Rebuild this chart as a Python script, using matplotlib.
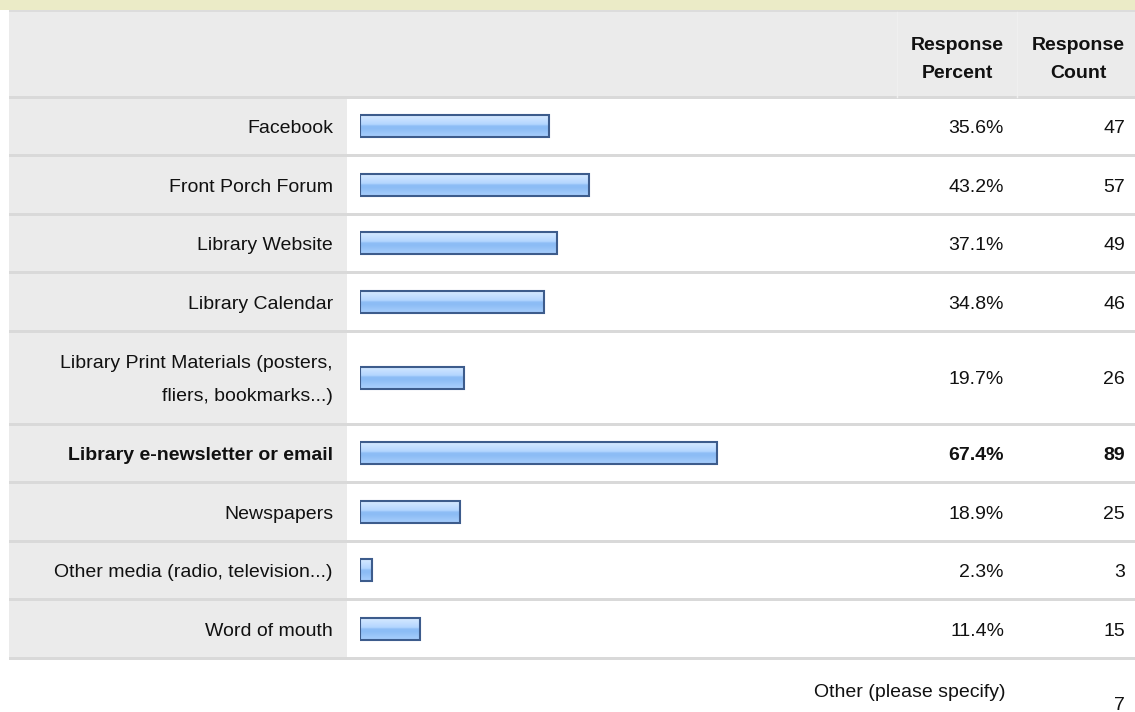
import matplotlib
matplotlib.use("Agg")
import matplotlib.pyplot as plt
import numpy as np
from matplotlib.patches import Rectangle
from matplotlib.colors import LinearSegmentedColormap

plt.rcParams['font.family'] = ['Liberation Sans', 'DejaVu Sans']

# ---- data ----
categories = [
    "Facebook",
    "Front Porch Forum",
    "Library Website",
    "Library Calendar",
    "Library Print Materials (posters,\nfliers, bookmarks...)",
    "Library e-newsletter or email",
    "Newspapers",
    "Other media (radio, television...)",
    "Word of mouth",
]
percents = [35.6, 43.2, 37.1, 34.8, 19.7, 67.4, 18.9, 2.3, 11.4]
counts = [47, 57, 49, 46, 26, 89, 25, 3, 15]
highlight = "Library e-newsletter or email"
header_percent = "Response\nPercent"
header_count = "Response\nCount"
other_label = "Other (please specify)"
other_count = 7

# ---- layout (pixels) ----
W, H = 1135, 712
row_heights = [58.5, 58.5, 58.5, 58.5, 93, 58.5, 58.5, 58.5, 58.5]
header_top, header_bottom = 10, 97
left_edge, label_col_right = 9, 347
bar_x0, bar_x100 = 360, 890
bar_h = 22
label_x, pct_x, cnt_x = 333, 1004, 1125
fs = 14
tdy = 2.5  # text vertical nudge

bounds = header_bottom + np.concatenate([[0], np.cumsum(row_heights)])
centers = (bounds[:-1] + bounds[1:]) / 2

fig = plt.figure(figsize=(W / 100, H / 100), dpi=100)
bg = fig.add_axes([0, 0, 1, 1])
bg.set_xlim(0, W)
bg.set_ylim(H, 0)
bg.axis("off")

# top yellow band
bg.add_patch(Rectangle((0, 0), W, header_top, color="#ebebc7", lw=0))
# header
bg.add_patch(Rectangle((left_edge, header_top), W - left_edge, header_bottom - header_top,
                       color="#ebebeb", lw=0))
bg.add_patch(Rectangle((left_edge, header_top), W - left_edge, 1.5, color="#dcdcdc", lw=0))
for xv in (897, 1017):
    bg.plot([xv, xv], [header_top + 2, header_bottom], color="#efefef", lw=1)
# label column
bg.add_patch(Rectangle((left_edge, header_bottom), label_col_right - left_edge,
                       bounds[-1] - header_bottom, color="#ebebeb", lw=0))
# separators
for b in bounds:
    bg.add_patch(Rectangle((left_edge, b - 1.5), W - left_edge, 3, color="#d9d9d9", lw=0))

# header texts
bg.text(957, 57 + tdy, header_percent, ha="center", va="center", fontsize=fs,
        fontweight="bold", linespacing=1.85, color="#111111")
bg.text(1078, 57 + tdy, header_count, ha="center", va="center", fontsize=fs,
        fontweight="bold", linespacing=1.85, color="#111111")

# row texts
for cat, p, c, yc in zip(categories, percents, counts, centers):
    w = "bold" if cat == highlight else "normal"
    bg.text(label_x, yc + tdy, cat, ha="right", va="center", fontsize=fs, fontweight=w,
            linespacing=2.2, color="#111111")
    bg.text(pct_x, yc + tdy, f"{p:.1f}%", ha="right", va="center", fontsize=fs,
            fontweight=w, color="#111111")
    bg.text(cnt_x, yc + tdy, f"{c}", ha="right", va="center", fontsize=fs,
            fontweight=w, color="#111111")

# bottom row
bg.text(1005, 690 + tdy, other_label, ha="right", va="center", fontsize=fs, color="#111111")
bg.text(cnt_x, 703 + tdy, str(other_count), ha="right", va="center", fontsize=fs, color="#111111")

# ---- bars ----
ax = fig.add_axes([bar_x0 / W, 0, (bar_x100 - bar_x0) / W, 1])
ax.set_xlim(0, 100)
ax.set_ylim(H, 0)
ax.axis("off")
ax.patch.set_alpha(0)
bars = ax.barh(centers, percents, height=bar_h, facecolor="none",
               edgecolor="#3d5c8c", linewidth=1.5, zorder=3)

cmap = LinearSegmentedColormap.from_list(
    "bar", [(0, "#d6e9ff"), (0.42, "#b4d6ff"), (0.5, "#8dbdf6"),
            (0.62, "#8cbcf5"), (1, "#a9cffd")])
grad = np.linspace(0, 1, 64).reshape(-1, 1)
for r in bars:
    x0, y0 = r.get_x(), r.get_y()
    w, h = r.get_width(), r.get_height()
    im = ax.imshow(grad, cmap=cmap, aspect="auto", origin="upper",
                   extent=[x0, x0 + w, y0 + h, y0], zorder=2, interpolation="bilinear")
    im.set_clip_path(r)
ax.set_xlim(0, 100)
ax.set_ylim(H, 0)

fig.savefig("out.png", dpi=100)
